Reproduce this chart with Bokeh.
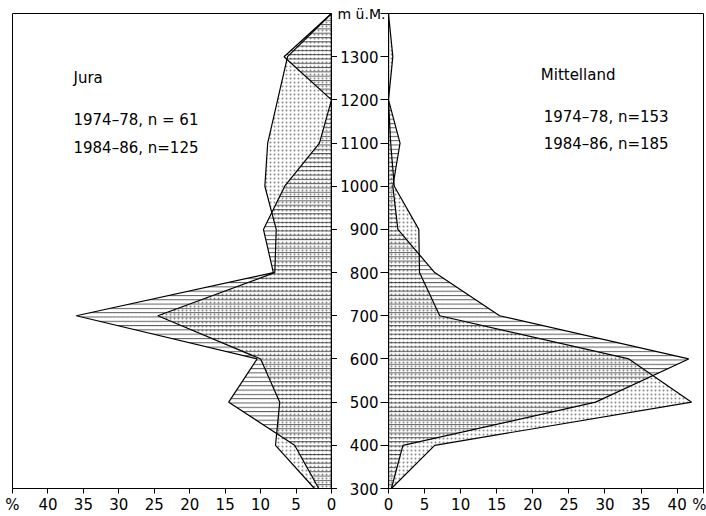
from bokeh.plotting import figure
from bokeh.models import Range1d, FixedTicker, Label, Title
from bokeh.layouts import row
from bokeh.embed import file_html
from bokeh.resources import INLINE

# altitude classes (m ü.M.)
altitudes = [300, 400, 500, 600, 700, 800, 900, 1000, 1100, 1200, 1300, 1400]
# Jura, percent of sites per altitude class
jura_1974_78 = [1.8, 5.2, 14.5, 10.5, 36.0, 8.2, 9.6, 6.6, 1.7, 0.0, 6.7, 0.0]
jura_1984_86 = [2.4, 7.9, 7.3, 10.0, 24.5, 8.0, 7.8, 9.4, 9.0, 7.6, 6.2, 0.0]
# Mittelland
mitt_1974_78 = [0.4, 2.0, 28.7, 41.6, 15.4, 6.4, 1.3, 0.6, 1.6, 0.0, 0.0, 0.0]
mitt_1984_86 = [0.4, 6.4, 42.0, 33.3, 7.1, 4.3, 4.2, 0.8, 0.3, 0.0, 0.6, 0.0]

alt_ticks = [300, 400, 500, 600, 700, 800, 900, 1000, 1100, 1200, 1300]
pct_ticks = [0, 5, 10, 15, 20, 25, 30, 35, 40]
LEFT_MAX = 45
RIGHT_MAX = 43.65
ALT_MIN, ALT_MAX = 300, 1400

FONT = "DejaVu Sans"
FS = "15px"
H = 516


def closed(vals):
    xs = [0.0] + list(vals) + [0.0]
    ys = [altitudes[0]] + list(altitudes) + [altitudes[-1]]
    return xs, ys


def style(p, xmax):
    p.grid.visible = False
    p.outline_line_color = "black"
    p.outline_line_width = 1
    p.background_fill_color = "white"
    p.border_fill_color = "white"
    for ax in p.axis:
        ax.axis_line_color = "black"
        ax.major_tick_line_color = "black"
        ax.minor_tick_line_color = None
        ax.major_tick_in = 0
        ax.major_label_text_font = FONT
        ax.major_label_text_font_size = FS
        ax.major_label_text_color = "black"
    p.xaxis.ticker = FixedTicker(ticks=pct_ticks + [xmax])
    p.xaxis.major_label_overrides = {xmax: "%"}
    p.xaxis.major_tick_out = 5
    p.xaxis.major_label_standoff = 2


def draw(p, stip, hatch):
    xs, ys = closed(stip)
    p.patch(xs, ys, fill_alpha=0, line_color="black", line_width=1.2,
            hatch_pattern="dot", hatch_color="#888888", hatch_scale=4,
            hatch_weight=1.0)
    xs, ys = closed(hatch)
    p.patch(xs, ys, fill_alpha=0, line_color="black", line_width=1.2,
            hatch_pattern="horizontal_line", hatch_color="#111111",
            hatch_scale=4.3, hatch_weight=0.7)


def txt(p, x, y, t, align="left", baseline="middle", size=FS):
    p.add_layout(Label(x=x, y=y, text=t, text_font=FONT, text_font_size=size,
                       text_align=align, text_baseline=baseline,
                       text_color="black"))


left = figure(width=337, height=H, x_range=Range1d(LEFT_MAX, 0),
              y_range=Range1d(ALT_MIN, ALT_MAX), y_axis_location="right",
              output_backend="svg", toolbar_location=None,
              min_border_left=12, min_border_right=6, min_border_top=13,
              min_border_bottom=27)
style(left, LEFT_MAX)
left.yaxis.ticker = FixedTicker(ticks=alt_ticks)
left.yaxis.major_tick_out = 6
left.yaxis.major_label_standoff = 0
left.yaxis.major_label_overrides = {t: "" for t in alt_ticks}
draw(left, jura_1984_86, jura_1974_78)
txt(left, 36.4, 1250, "Jura")
txt(left, 36.4, 1153, "1974–78, n = 61")
txt(left, 36.4, 1088, "1984–86, n=125")

right = figure(width=369, height=H, x_range=Range1d(0, RIGHT_MAX),
               y_range=Range1d(ALT_MIN, ALT_MAX),
               output_backend="svg", toolbar_location=None,
               min_border_left=50, min_border_right=3, min_border_top=13,
               min_border_bottom=27)
style(right, RIGHT_MAX)
right.yaxis.ticker = FixedTicker(ticks=alt_ticks + [ALT_MAX])
right.yaxis.major_label_overrides = {ALT_MAX: ""}
right.yaxis.major_tick_out = 8
right.yaxis.major_label_standoff = 2
draw(right, mitt_1984_86, mitt_1974_78)
txt(right, 21.1, 1257, "Mittelland")
txt(right, 21.5, 1160, "1974–78, n=153")
txt(right, 21.5, 1097, "1984–86, n=185")
right.add_layout(Title(text="m ü.M.", align="left", offset=-51, standoff=-17,
                       vertical_align="bottom", text_font=FONT,
                       text_font_size="14px", text_font_style="normal",
                       text_color="black"), "above")

layout = row(left, right)
open("out.html", "w").write(file_html(layout, INLINE))
